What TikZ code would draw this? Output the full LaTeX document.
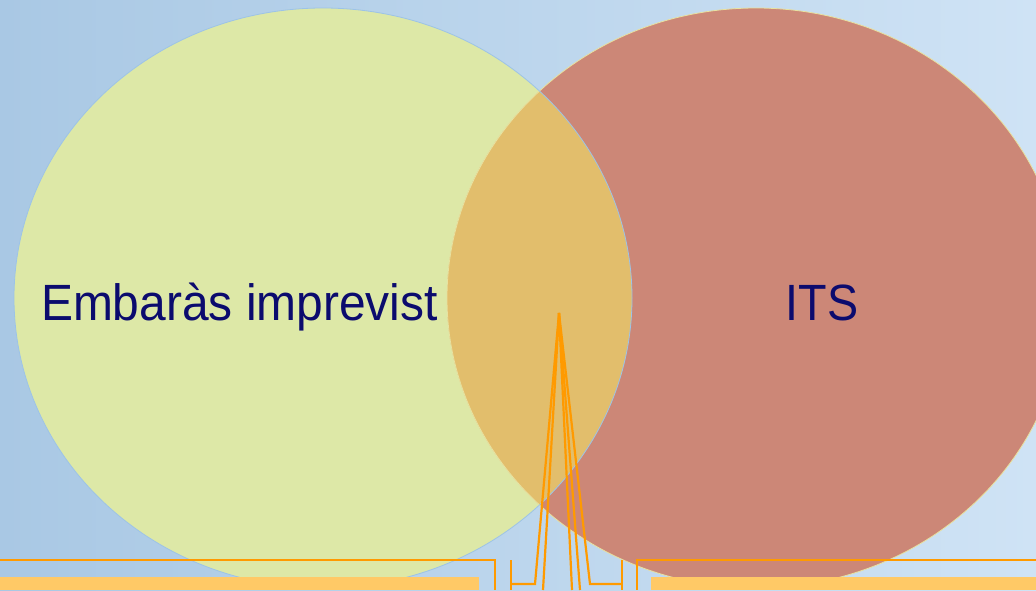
\documentclass[tikz,border=0pt]{standalone}
\usepackage{fontspec}
\setmainfont{Liberation Sans}
\usepackage{tikz}
\usetikzlibrary{calc,positioning}

\definecolor{bgleft}{HTML}{A9C8E4}
\definecolor{bgright}{HTML}{CFE3F5}
\definecolor{setleft}{HTML}{DDE8A7}
\definecolor{setright}{HTML}{CC8777}
\definecolor{setboth}{HTML}{E2BE6C}
\definecolor{rimright}{HTML}{E8E2A0}
\definecolor{rimleft}{HTML}{9CC3E8}
\definecolor{labelblue}{HTML}{0B0B6E}
\definecolor{calloutline}{HTML}{FF9A00}
\definecolor{calloutfill}{HTML}{FFC966}

\newcommand{\narrow}[2][0.915]{\scalebox{#1}[1]{#2}}

\tikzset{
  setlabel/.style={text=labelblue, font=\fontsize{51}{60}\selectfont, inner sep=0pt, anchor=base},
  leader/.style={draw=calloutline, line width=2.2pt},
  bar/.style={fill=calloutfill, draw=none}
}

\begin{document}
\begin{tikzpicture}[x=1pt,y=-1pt]
    % Page and background
    \useasboundingbox (0,0) rectangle (1036,590);
    \shade[left color=bgleft, right color=bgright] (0,0) rectangle (1036,590);

    % Centres of the two sets
    \coordinate (cleft) at (323,298);
    \coordinate (cright) at (756,298);

    % Fill the two sets
    \fill[setleft] (cleft) ellipse [x radius=309pt, y radius=290pt];
    \fill[setright] (cright) ellipse [x radius=309pt, y radius=290pt];

    % Overlap of the sets
    \begin{scope}
        \clip (cleft) ellipse [x radius=309pt, y radius=290pt];
        \fill[setboth] (cright) ellipse [x radius=309pt, y radius=290pt];
    \end{scope}

    % Outlines
    \draw[draw=rimright, line width=0.8pt] (cright) ellipse [x radius=309pt, y radius=290pt];
    \draw[draw=rimleft, line width=0.8pt] (cleft) ellipse [x radius=309pt, y radius=290pt];

    % Set labels
    \node[setlabel] (embaras) at (239.5,320.7) {\narrow[0.94]{Embaràs imprevist}};
    \node[setlabel] (its) at (822,320.7) {\narrow{ITS}};

    % Callout bars at the bottom
    \fill[bar] (0,577) rectangle (479,590);
    \fill[bar] (651,577) rectangle (1036,590);

    % Callout frames
    \coordinate (apex) at (559,313);
    \coordinate (lframe) at (495,560);
    \coordinate (rframe) at (637,560);
    \draw[leader] (0,560) -- (lframe) -- (495,590);
    \draw[leader] (1036,560) -- (rframe) -- (637,590);

    % Leaders from the overlap
    \coordinate (lfoot) at (535,584);
    \coordinate (rfoot) at (590,584);
    \draw[leader] (apex) -- (lfoot) -- (511,584);
    \draw[leader] (511,560) -- (511,590);
    \draw[leader] (apex) -- (rfoot) -- (622,584);
    \draw[leader] (622,560) -- (622,590);
    \draw[leader] (apex) -- (543,590);
    \draw[leader] (apex) -- (572,590);
    \draw[leader] (apex) -- (580,590);
\end{tikzpicture}
\end{document}
